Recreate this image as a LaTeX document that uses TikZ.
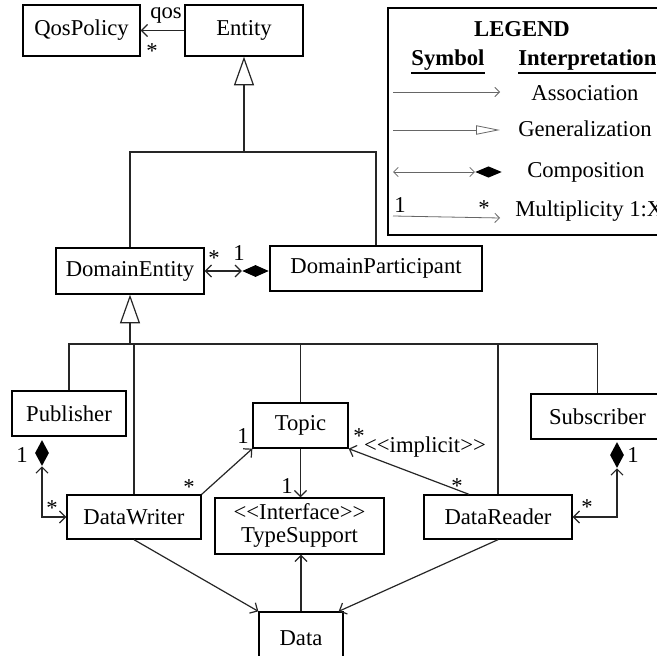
\documentclass[tikz,border=0pt]{standalone}
\usepackage{fontspec}
\setmainfont{Liberation Serif}[Ligatures=TeXOff]
\usetikzlibrary{arrows.meta,shapes.geometric,calc}
% bold text with a heavy underline
\newcommand\headul[1]{\vtop{\hbox{\textbf{#1}}\kern0.8pt\hrule height 1.8pt}}
\begin{document}
\begin{tikzpicture}[x=0.75pt,y=-0.75pt,
  every node/.style={font=\fontsize{17}{19.5}\selectfont},
  % a class box given by its left, top, right and bottom edges
  box/.style n args={4}{draw, line width=1pt, inner sep=0pt,
    minimum width={(#3-#1)*0.75pt}, minimum height={(#4-#2)*0.75pt},
    at={({(#1+#3)/2},{(#2+#4)/2})}},
  wire/.style={draw=black!85, line width=0.9pt},
  barb/.tip={Straight Barb[length=4.5pt,width=9pt]},
  assoc/.style={wire, -barb},
  comp/.style={wire, barb-barb},
  gen/.style={wire, -{Triangle[open,length=21.5pt,width=15pt,fill=white]}},
  hdia/.style={diamond, fill=black, inner sep=0pt, minimum width=20pt, minimum height=9pt},
  vdia/.style={diamond, fill=black, inner sep=0pt, minimum width=10.5pt, minimum height=19.5pt},
  lab/.style={anchor=base, inner sep=0pt},
  labw/.style={anchor=base west, inner sep=0pt},
  key/.style={draw=black!60, line width=0.6pt},
  keybarb/.tip={Straight Barb[length=3.5pt,width=7pt]}]

\useasboundingbox (0,0) rectangle (657,656);
\fill[white] (0,0) rectangle (657,656);
\clip (0,0) rectangle (657,656);

% classes
\node[box={23}{5}{140}{56}]    (qp)  {QosPolicy};
\node[box={185}{5}{303}{56}]   (ent) {Entity};
\node[box={56}{248}{204}{294}] (de)  {DomainEntity};
\node[box={270}{246}{482}{291}] (dp) {DomainParticipant};
\node[box={12}{391}{126}{436}] (pub) {Publisher};
\node[box={253}{403}{348}{448}] (tp) {Topic};
\node[box={531}{394}{664}{439}] (sub) {Subscriber};
\node[box={67}{495}{201}{539}] (dw)  {DataWriter};
\node[box={215}{498}{384}{554}] (ts)
  {\begin{tabular}{@{}c@{}}<<Interface>>\\[-2.5pt]TypeSupport\end{tabular}};
\node[box={424}{495}{572}{539}] (dr) {DataReader};
\node[box={259}{612}{343}{664}] (da) {Data};

% composition diamonds
\node[hdia] (hd) at (255.5,271) {};
\node[vdia] (pd) at (42,453) {};
\node[vdia] (sd) at (617,455) {};

% Entity associations and generalization tree
\draw[assoc] (ent.west) -- (qp.east);
\node[lab] at (166,19) {qos};
\node[lab] at (152,59) {*};

\coordinate (tj) at (244,152);
\draw[wire] (de.north) |- (tj) -| (dp.north);
\draw[gen] (tj) -- (ent.south);

\draw[comp] (de.east) -- (hd.west);
\node[lab] at (214,266) {*};
\node[lab] at (239,261) {1};

\coordinate (bj) at (130,344);
\draw[gen] (bj) -- (de.south);
\draw[wire] (pub.north) |- (bj) -| (sub.north);
\draw[wire] (dw.north) -- (dw.north |- bj);
\draw[wire] (tp.north) -- (tp.north |- bj);
\draw[wire] (dr.north) -- (dr.north |- bj);

% publisher / subscriber ownership
\draw[comp] (pd.south) |- (dw.west);
\node[lab] at (22,462) {1};
\node[lab] at (52,515) {*};
\draw[comp] (sd.south) |- (dr.east);
\node[lab] at (633,462) {1};
\node[lab] at (587,514) {*};

% topic, type support and data
\draw[assoc] (dw.north east) -- (tp.south west);
\node[lab] at (243,443) {1};
\node[lab] at (189,494) {*};
\draw[assoc] (tp.south) -- (tp.south |- ts.north);
\node[lab] at (287,493) {1};
\draw[assoc] ($(dr.north)+(-29,0)$) -- (tp.south east);
\node[lab] at (359,443) {*};
\node[lab] at (425,452) {<<implicit>>};
\node[lab] at (457,493) {*};
\draw[assoc] (dw.south) -- (da.north west);
\draw[assoc] (dr.south) -- ($(da.north east)+(-5,0)$);
\draw[assoc] (da.north) -- (da.north |- ts.south);

% legend
\node[box={388}{8}{700}{235}] (legend) {};
\node[lab] at (522,37) {\textbf{LEGEND}};
\node[lab] at (448,66) {\headul{Symbol}};
\node[labw] at (518,66) {\headul{Interpretation}};

\coordinate (ka1) at (393,92);  \coordinate (ka2) at (500,92);
\draw[key,-keybarb] (ka1) -- (ka2);
\node[lab] at (585,101) {Association};

\coordinate (kg1) at (393,130); \coordinate (kg2) at (500,130);
\draw[key,-{Triangle[open,length=18pt,width=7pt,fill=white]}] (kg1) -- (kg2);
\node[labw] at (518,137) {Generalization};

\coordinate (kc1) at (393,172);
\node[diamond, fill=black, inner sep=0pt, minimum width=20pt, minimum height=8.5pt] (kd) at (488.5,172) {};
\draw[key,keybarb-keybarb] (kc1) -- (kd.west);
\node[labw] at (527,178) {Composition};

\coordinate (km1) at (393,216); \coordinate (km2) at (500,218);
\draw[key,-keybarb] (km1) -- (km2);
\node[lab] at (400,213) {1};
\node[lab] at (484,216) {*};
\node[labw] at (515,217) {Multiplicity 1:X};
\end{tikzpicture}
\end{document}
